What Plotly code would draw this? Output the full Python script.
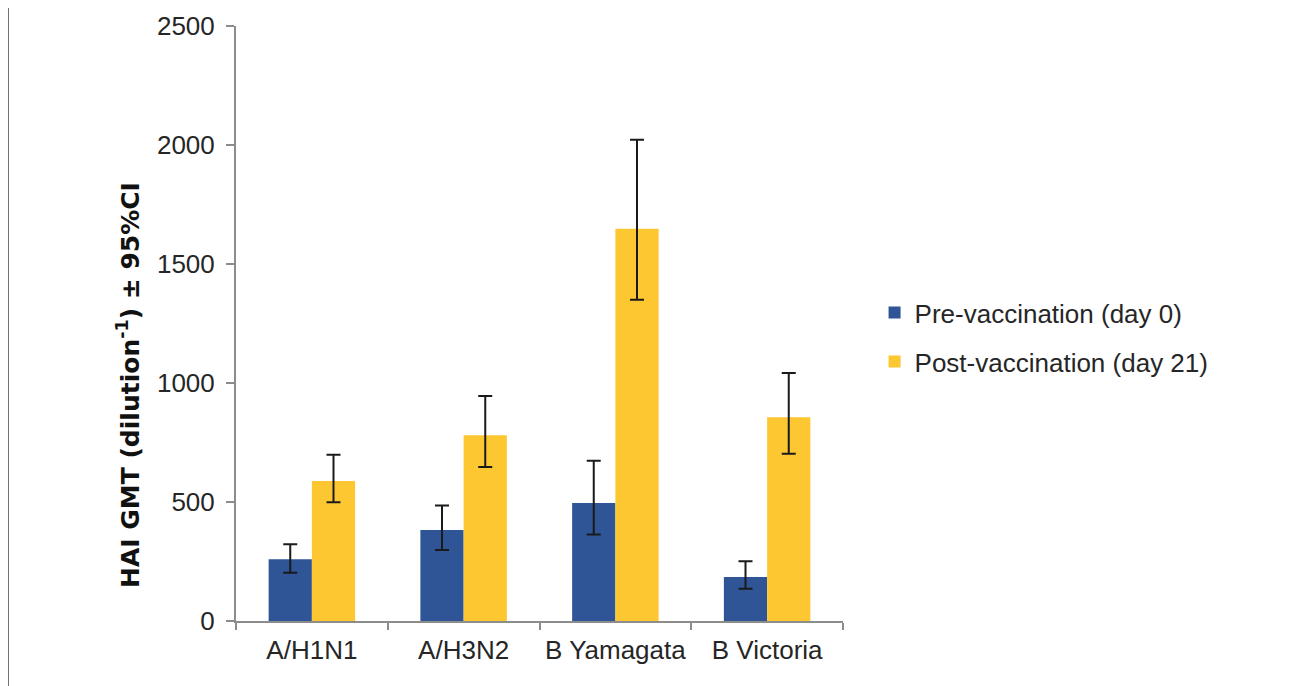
import plotly.graph_objects as go

categories = ["A/H1N1", "A/H3N2", "B Yamagata", "B Victoria"]
pre_values = [259, 382, 496, 185]
pre_upper = [322, 485, 673, 251]
pre_lower = [203, 298, 363, 136]
post_values = [588, 780, 1648, 856]
post_upper = [699, 945, 2022, 1042]
post_lower = [499, 647, 1350, 703]
y_ticks = [0, 500, 1000, 1500, 2000, 2500]

FONT = "Liberation Sans, Arial, sans-serif"
TXT = "#262626"

def err(vals, up, lo):
    return dict(type="data", symmetric=False,
                array=[u - v for u, v in zip(up, vals)],
                arrayminus=[v - l for v, l in zip(vals, lo)],
                color="#1a1a1a", thickness=2, width=7)

fig = go.Figure()
fig.add_trace(go.Bar(x=categories, y=pre_values, name="Pre-vaccination (day 0)",
                     marker=dict(color="#2F5597", line=dict(width=0)),
                     error_y=err(pre_values, pre_upper, pre_lower), legendgroup="a"))
fig.add_trace(go.Bar(x=categories, y=post_values, name="Post-vaccination (day 21)",
                     marker=dict(color="#FCC730", line=dict(width=0)),
                     error_y=err(post_values, post_upper, post_lower), legendgroup="b"))

fig.update_layout(
    width=1289, height=678,
    margin=dict(l=228, r=454, t=18, b=65, autoexpand=False),
    paper_bgcolor="white", plot_bgcolor="white",
    barmode="group", bargap=0.43, bargroupgap=0,
    font=dict(family=FONT, size=26, color=TXT),
    legend=dict(x=1.052, y=0.477, xanchor="left", yanchor="middle",
                font=dict(size=26, color=TXT), tracegroupgap=12,
                bgcolor="rgba(0,0,0,0)"),
    xaxis=dict(showline=True, linecolor="#8c8c8c", linewidth=2,
               ticks="outside", tickson="boundaries", ticklen=7, tickcolor="#8c8c8c",
               tickwidth=2, showgrid=False, zeroline=False, ticklabelstandoff=5,
               tickfont=dict(size=26, color=TXT)),
    yaxis=dict(range=[0, 2500], tickvals=y_ticks, showline=True, linecolor="#8c8c8c",
               linewidth=2, ticks="outside", ticklen=8, tickcolor="#8c8c8c", tickwidth=2,
               showgrid=False, zeroline=False, ticklabelstandoff=6,
               tickfont=dict(size=26, color=TXT)),
    annotations=[dict(text="<b>HAI GMT (dilution<sup>-1</sup>) ± 95%CI</b>",
                      xref="paper", yref="paper", x=(128 - 236) / 607, y=(621 - 385) / 595,
                      xanchor="center", yanchor="middle", textangle=-90, showarrow=False,
                      font=dict(family="DejaVu Sans, sans-serif", size=25, color="#111111"))],
    shapes=[dict(type="line", xref="paper", yref="paper",
                 x0=(8 - 236) / 607, x1=(8 - 236) / 607, y0=-0.2, y1=1.1,
                 line=dict(color="#444444", width=1.5))],
)

fig.write_html("out.html")
